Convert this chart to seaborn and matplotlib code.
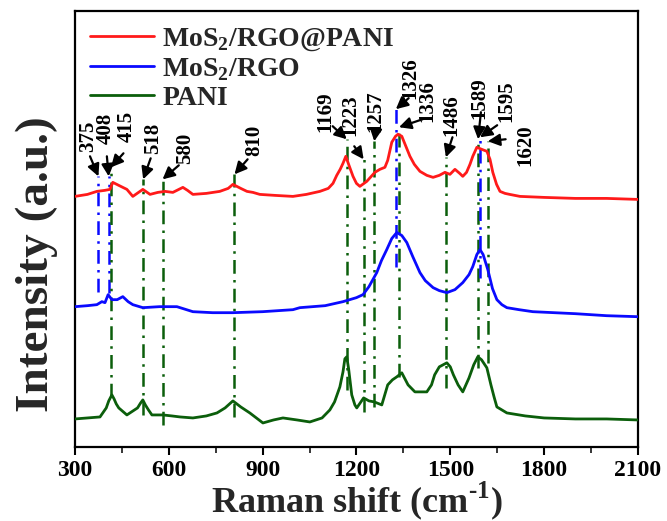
import numpy as np
import pandas as pd
import matplotlib
matplotlib.use("Agg")
import matplotlib.pyplot as plt
import seaborn as sns

# Raman spectra (x: cm-1, y: arbitrary units incl. offset)
red_x = [300, 340, 370, 395, 412, 421, 440, 466, 485, 517, 540, 565, 588, 613, 645, 660, 677, 720,
         763, 790, 805, 830, 850, 869, 891, 940, 997, 1040, 1083, 1110, 1125, 1137, 1148, 1157,
         1166, 1175, 1189, 1200, 1211, 1233, 1259, 1275, 1291, 1300, 1313, 1325, 1333, 1345, 1358,
         1371, 1385, 1403, 1425, 1445, 1465, 1483, 1499, 1515, 1530, 1540, 1552, 1563, 1572, 1585,
         1600, 1617, 1627, 1636, 1648, 1659, 1675, 1690, 1723, 1800, 1900, 2000, 2100]
red_y = [250, 252, 255, 256, 257, 264, 261, 257, 250, 257, 252, 254, 255, 254, 259, 256, 252, 253,
         255, 258, 262, 258, 255, 254, 252, 251, 250, 252, 255, 258, 263, 271, 277, 283,
         290, 282, 270, 263, 260, 265, 274, 277, 279, 286, 304, 310, 312, 310, 300,
         290, 282, 275, 271, 269, 271, 274, 272, 277, 273, 270, 274, 282, 290, 299,
         297, 295, 287, 274, 262, 255, 253, 252, 250, 249, 248, 248, 247]

blue_x = [300, 340, 370, 386, 396, 406, 418, 435, 453, 470, 485, 517, 570, 626, 677, 740, 805, 900,
          997, 1019, 1100, 1157, 1200, 1221, 1240, 1265, 1280, 1297, 1313, 1329, 1345, 1361, 1380,
          1403, 1420, 1445, 1465, 1489, 1515, 1540, 1560, 1572, 1585, 1595, 1605, 1620, 1635, 1649,
          1665, 1681, 1720, 1764, 1900, 2000, 2100]
blue_y = [140, 141, 142, 145, 144, 152, 147, 147, 150, 145, 142, 139, 140, 140, 135, 134, 134, 135,
          137, 139, 141, 145, 149, 152, 160, 174, 186, 197, 208, 214, 211, 204, 190,
          174, 166, 159, 156, 154, 157, 164, 172, 180, 192, 197, 192, 177, 158, 147,
          142, 139, 137, 135, 133, 131, 130]

green_x = [300, 340, 380, 400, 408, 418, 425, 432, 440, 466, 500, 510, 517, 525, 535, 546, 581, 610,
           636, 677, 720, 754, 780, 805, 830, 859, 901, 935, 965, 1010, 1051, 1090, 1115, 1130,
           1147, 1157, 1163, 1169, 1175, 1185, 1195, 1201, 1223, 1240, 1257, 1281, 1300, 1315,
           1329, 1345, 1365, 1387, 1425, 1440, 1450, 1465, 1489, 1500, 1510, 1525, 1540, 1560,
           1575, 1588, 1600, 1617, 1630, 1640, 1649, 1681, 1740, 1800, 1900, 2000, 2100]
green_y = [28, 29, 30, 39, 46, 52, 48, 43, 39, 32, 39, 44, 47, 42, 37, 32, 32, 31,
           30, 29, 31, 34, 39, 46, 40, 34, 24, 27, 29, 27, 25, 29, 37, 45,
           60, 75, 88, 90, 78, 52, 42, 39, 49, 46, 45, 42, 62, 67,
           70, 74, 62, 55, 55, 62, 72, 80, 84, 80, 72, 62, 55, 69,
           82, 90, 87, 79, 62, 50, 40, 34, 31, 29, 28, 28, 27]

series_names = ["MoS$_\\mathregular{2}$/RGO@PANI", "MoS$_\\mathregular{2}$/RGO", "PANI"]
series_colors = ["#ff1a1a", "#0a0aff", "#0b5e0b"]

# marked peaks: position, owner (colour), top and bottom of the guide line
peak_pos = [375, 408, 415, 518, 580, 810, 1169, 1223, 1257, 1326, 1336, 1486, 1589, 1595, 1620]
peak_owner = ["b", "b", "g", "g", "g", "g", "g", "g", "g", "b", "g", "g", "g", "b", "g"]
peak_top = [270, 270, 279, 267, 267, 272, 307, 287, 305, 337, 319, 289, 307, 309, 305]
peak_bottom = [155, 154, 50, 32, 22, 30, 57, 35, 40, 180, 70, 59, 79, 169, 84]

# label anchors (bottom centre of the rotated text) and arrow tails
label_xy = [(342, 294), (399, 302), (466, 304), (549, 292), (652, 282), (872, 290),
            (1102, 314), (1179, 310), (1259, 314), (1374, 347), (1428, 324), (1502, 310),
            (1592, 327), (1678, 324), (1739, 280)]
arrow_tail = [(348, 290), (402, 290), (455, 293), (542, 288), (632, 281), (852, 287),
              (1124, 320), (1193, 300), (1262, 316), (1367, 348), (1412, 327), (1507, 309),
              (1598, 334), (1650, 321), (1677, 307)]

sns.set_theme(style="ticks")
plt.rcParams["font.family"] = ["Liberation Serif", "DejaVu Serif"]
plt.rcParams["font.weight"] = "bold"
plt.rcParams["mathtext.fontset"] = "custom"
plt.rcParams["mathtext.rm"] = "Liberation Serif:bold"
plt.rcParams["mathtext.bf"] = "Liberation Serif:bold"

fig = plt.figure(figsize=(6.67, 5.21), dpi=100)
ax = fig.add_axes([0.1124, 0.142, 0.844, 0.837])

# guide lines first so curves sit on top
owner_color = {"b": series_colors[1], "g": series_colors[2]}
for p, o, t, b in zip(peak_pos, peak_owner, peak_top, peak_bottom):
    ax.vlines(p, b, t, colors=owner_color[o], lw=1.8, linestyles=(0, (5.5, 2.5, 1, 2.5)), zorder=1)

for xs, ys, name, col in zip([red_x, blue_x, green_x], [red_y, blue_y, green_y],
                             series_names, series_colors):
    df = pd.DataFrame({"x": xs, "y": ys})
    sns.lineplot(data=df, x="x", y="y", color=col, lw=2.0, label=name, ax=ax, zorder=3)

for p, t, txt, tail in zip(peak_pos, peak_top, label_xy, arrow_tail):
    ax.text(txt[0], txt[1], str(p), rotation=90, ha="center", va="bottom",
            fontsize=15, fontweight="bold", color="black", zorder=5)
    ax.annotate("", xy=(p, t), xytext=tail,
                arrowprops=dict(arrowstyle="-|>,head_length=0.6,head_width=0.3",
                                color="black", lw=1.6, shrinkA=0, shrinkB=0), zorder=5)

ax.set_xlim(300, 2100)
ax.set_ylim(0, 435)
ax.set_xticks([300, 600, 900, 1200, 1500, 1800, 2100])
ax.set_xticks([450, 750, 1050, 1350, 1650, 1950], minor=True)
ax.set_yticks([])
ax.tick_params(axis="x", which="major", direction="out", length=6, width=1.5,
               labelsize=17, pad=3, colors="black")
ax.tick_params(axis="x", which="minor", direction="out", length=4, width=1.3)
for lab in ax.get_xticklabels():
    lab.set_fontweight("bold")
for s in ax.spines.values():
    s.set_linewidth(1.6)
    s.set_color("black")
    s.set_visible(True)

ax.set_xlabel("Raman shift (cm$^{\\mathregular{\\text{-}1}}$)", fontsize=26, fontweight="bold",
              labelpad=-1)
ax.set_ylabel("Intensity (a.u.)", fontsize=34, fontweight="bold")
ax.yaxis.set_label_coords(-0.03, 0.42)

ax.legend(loc="upper left", frameon=False, handlelength=2.3,
          borderaxespad=0.15, labelspacing=0.1, handletextpad=0.3,
          prop={"weight": "bold", "size": 20})

fig.savefig("out.png", dpi=100)
